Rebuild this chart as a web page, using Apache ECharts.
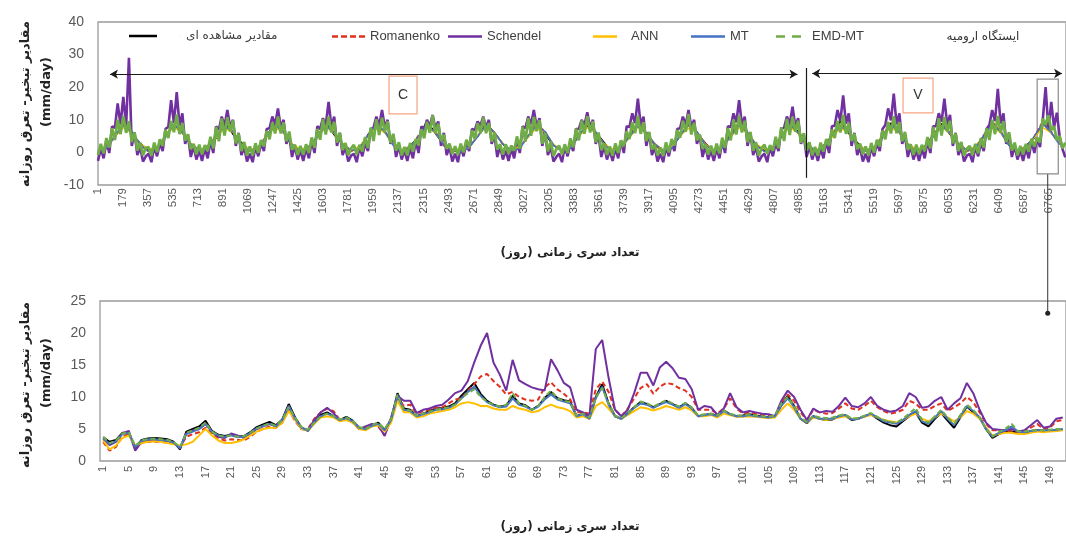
<!DOCTYPE html>
<html><head><meta charset="utf-8">
<script src="https://cdn.jsdelivr.net/npm/echarts@6/dist/echarts.min.js"></script>
<style>html,body{margin:0;padding:0;background:#fff}#c{width:1066px;height:546px}</style>
</head><body><div id="c"></div>
<script>
// ---- names / styles ----
const SERIES_NAMES = ['مقادیر مشاهده ای','Romanenko','Schendel','ANN','MT','EMD-MT'];
const COLORS = ['#000000','#e0301e','#7030a0','#ffc000','#4472c4','#70ad47'];
const DASH = ['solid','dashed','solid','solid','solid','dashed'];

// ---- top chart (whole record, day index) ----
const TOP_X_MAX = 6885;        // last day index shown
const TOP_X_INTERVAL = 178;    // tick label step (days)
const TOP_Y = {min:-10, max:40, interval:10};
const TOP_STEP = 20;           // sampling step (days) of the dense series
const HID_STEP = 60;           // sampling step (days) of the covered series

const TOP_EMD = [
-0.8,2.6,-0.3,4.4,1.5,7.4,3.8,10.0,5.6,11.2,6.0,9.6,3.2,6.2,0.6,3.0,-0.9,1.4,
1.6,-1.0,3.0,0.1,4.0,2.0,7.0,4.4,9.6,6.2,11.6,5.6,9.0,3.6,5.6,1.0,2.6,-0.6,
2.4,-0.5,2.2,0.4,4.8,1.2,7.8,3.4,10.4,5.2,10.8,6.4,9.8,2.8,5.8,0.4,3.2,-1.0,
1.8,-0.9,2.8,-0.1,3.8,1.8,6.6,4.0,9.2,5.8,11.0,5.8,9.2,3.4,6.4,0.8,2.4,-0.8,
2.0,-0.7,2.5,-0.2,4.6,1.4,7.2,3.9,10.2,5.5,11.0,6.1,9.4,3.0,6.0,0.7,2.9,-0.9,1.2,
2.3,-0.6,2.3,0.3,4.7,1.3,7.6,3.5,10.2,5.3,10.6,6.3,9.6,2.9,5.7,0.5,3.1,-0.9,
1.7,-0.9,2.9,0.2,4.1,2.1,7.1,4.3,9.4,6.0,11.4,5.7,8.8,3.5,5.5,1.1,2.7,-0.5,
1.9,-0.8,2.7,0.0,3.9,1.7,6.8,4.1,9.0,5.9,10.8,5.9,9.0,3.3,6.2,0.9,2.5,-0.7,
2.5,-0.4,2.1,0.5,4.9,1.1,7.9,3.3,10.6,5.1,10.9,6.5,9.9,2.7,5.9,0.3,3.3,-1.1,1.0,
2.1,-0.7,2.5,-0.2,4.3,1.6,7.3,3.7,9.8,5.7,11.1,6.1,9.5,3.1,6.1,0.7,2.9,-0.8,
1.8,-1.0,2.8,-0.2,3.7,1.9,6.5,4.1,9.3,5.9,11.2,5.7,9.3,3.5,6.3,0.9,2.3,-0.9,
1.5,-1.1,3.1,0.0,4.1,2.1,6.9,4.5,9.7,6.3,11.8,5.5,9.1,3.7,5.5,1.1,2.5,-0.7,
2.1,-0.8,2.7,-0.3,4.5,1.4,7.5,3.7,10.1,5.5,11.3,6.1,9.7,3.1,6.3,0.5,3.1,-1.0,1.3,
2.4,-0.4,2.2,0.5,4.8,1.3,7.7,3.5,10.3,5.3,10.9,6.3,9.7,2.9,5.9,0.5,3.1,-0.9,
1.7,-1.0,3.0,0.2,4.1,2.0,7.1,4.4,9.7,6.1,11.5,5.7,9.1,3.5,5.7,1.0,2.7,-0.6,
1.8,-0.9,2.9,-0.1,3.9,1.8,6.7,4.0,9.3,5.8,11.1,5.9,9.3,3.4,6.3,0.8,2.5,-0.8,
2.4,-0.5,2.3,0.4,4.7,1.2,7.8,3.4,10.5,5.2,10.9,6.4,9.7,2.8,5.8,0.4,3.2,-1.0,1.1,
2.0,-0.8,2.6,-0.3,4.4,1.5,7.4,3.8,10.0,5.6,11.2,6.0,9.6,3.2,6.2,0.6,3.0,-0.9,
2.0,-0.6,2.6,0.2,4.2,1.8,4.5,3.0,10.4,8.5,11.4,6.8,8.0,3.8,5.0,1.2,3.0
];
const TOP_SCH = [
-2.6,1.2,-1.8,3.4,-0.2,8.0,7.5,15.0,8.5,17.0,8.0,29.0,2.0,6.0,-0.8,1.6,-2.8,-1.2,
-0.4,-3.0,1.8,-1.2,2.8,0.4,7.2,7.8,16.0,9.0,18.5,8.2,12.0,2.6,5.2,-1.4,2.0,-2.2,
0.6,-2.6,1.2,-1.8,3.4,-0.2,8.0,7.0,11.0,8.2,13.0,7.8,10.0,2.0,6.0,-0.8,1.6,-2.8,
-0.4,-3.0,1.8,-1.2,2.8,0.4,7.2,7.4,11.0,8.6,13.5,7.6,10.0,2.6,5.2,-1.4,2.0,-2.2,
0.6,-2.6,1.2,-1.8,3.4,-0.2,8.0,7.2,10.5,8.4,15.5,8.0,11.0,2.0,6.0,-0.8,1.6,-2.8,-1.0,
-0.4,-3.0,1.8,-1.2,2.8,0.4,7.2,7.6,11.0,8.2,13.0,7.8,10.0,2.6,5.2,-1.4,2.0,-2.2,
0.6,-2.6,1.2,-1.8,3.4,-0.2,8.0,7.0,10.0,8.0,11.5,7.4,9.5,2.0,6.0,-0.8,1.6,-2.8,
-0.4,-3.0,1.8,-1.2,2.8,0.4,7.2,6.8,9.5,8.2,11.0,7.6,10.0,2.6,5.2,-1.4,2.0,-2.2,
0.6,-2.6,1.2,-1.8,3.4,-0.2,8.0,7.4,11.0,8.6,13.0,7.8,10.5,2.0,6.0,-0.8,1.6,-2.8,-1.4,
-0.4,-3.0,1.8,-1.2,2.8,0.4,7.2,7.2,10.0,8.4,12.3,7.6,10.0,2.6,5.2,-1.4,2.0,-2.2,
0.6,-2.6,1.2,-1.8,3.4,-0.2,8.0,7.8,12.0,9.0,16.5,8.4,11.0,2.0,6.0,-0.8,1.6,-2.8,
-0.4,-3.0,1.8,-1.2,2.8,0.4,7.2,7.4,11.0,8.4,13.0,7.8,10.0,2.6,5.2,-1.4,2.0,-2.2,
0.6,-2.6,1.2,-1.8,3.4,-0.2,8.0,7.8,12.0,9.2,16.0,8.4,11.0,2.0,6.0,-0.8,1.6,-2.8,-1.2,
-0.4,-3.0,1.8,-1.2,2.8,0.4,7.2,7.6,11.0,8.8,14.0,8.0,10.5,2.6,5.2,-1.4,2.0,-2.2,
0.6,-2.6,1.2,-1.8,3.4,-0.2,8.0,8.2,13.0,9.6,17.5,8.8,12.0,2.0,6.0,-0.8,1.6,-2.8,
-0.4,-3.0,1.8,-1.2,2.8,0.4,7.2,8.4,13.5,9.8,18.0,8.6,12.0,2.6,5.2,-1.4,2.0,-2.2,
0.6,-2.6,1.2,-1.8,3.4,-0.2,8.0,8.0,12.0,9.4,16.5,8.4,11.5,2.0,6.0,-0.8,1.6,-2.8,-1.0,
-0.4,-3.0,1.8,-1.2,2.8,0.4,7.2,8.4,13.0,9.6,19.5,8.8,12.0,2.6,5.2,-1.4,2.0,-2.2,
0.6,-2.6,1.2,-1.8,3.4,-0.2,4.4,1.6,10.2,20.0,7.0,15.5,7.7,12.2,4.8,1.0,-1.5
];
const TOP_OBS = [
0.2,1.8,4.6,9.0,5.8,2.8, 0.6,1.4,5.0,8.4,6.2,2.4, -0.2,2.0,4.4,9.4,5.6,3.0, 0.4,1.6,5.2,8.8,6.0,2.2,
0.0,1.8,4.8,9.2,5.4,2.6, 0.6,1.2,5.4,8.6,6.4,2.8, 0.2,2.0,4.6,9.6,5.8,2.4,0.4, 0.4,1.6,5.0,8.8,6.0,2.6,
0.0,1.8,4.8,9.0,5.6,2.2, 0.6,1.4,5.2,8.4,6.2,3.0, -0.2,2.0,4.6,9.4,5.8,2.4, 0.4,1.6,5.0,8.8,6.0,2.8,
0.2,1.8,5.4,9.2,5.4,2.2, 0.6,1.2,4.8,8.6,6.4,2.6, 0.0,2.0,5.0,9.6,5.8,3.0, 0.4,1.6,4.6,9.0,6.0,2.4,
0.2,1.8,5.2,8.8,5.6,2.8, 0.6,1.4,4.8,9.4,6.2,2.2, 0.0,2.0,4.4,9.0,6.0,2.6
];
const TOP_ROM = [
0.6,1.2,5.2,8.4,6.4,2.2, 0.2,1.6,4.8,8.8,6.0,2.6, 0.8,1.0,5.4,8.2,6.6,2.0, 0.4,1.4,5.0,8.6,6.2,2.4,
0.6,1.2,5.2,8.0,6.4,2.2, 0.2,1.8,4.8,8.8,6.0,2.8, 0.8,1.2,5.4,8.4,6.6,2.0,0.6, 0.4,1.6,5.0,8.2,6.2,2.4,
0.6,1.0,5.2,8.8,6.4,2.2, 0.2,1.4,4.8,8.4,6.0,2.6, 0.8,1.2,5.4,8.6,6.6,2.0, 0.4,1.8,5.0,8.2,6.2,2.8,
0.6,1.2,5.2,8.8,6.4,2.2, 0.2,1.6,4.8,8.4,6.0,2.4, 0.8,1.0,5.6,9.0,6.8,2.0, 0.4,1.4,5.2,9.2,6.4,2.6,
0.6,1.2,5.0,8.8,6.2,2.2, 0.2,1.6,5.4,9.4,6.6,2.8, 0.6,1.2,5.0,9.6,6.4,2.4
];
const TOP_ANN = [
0.8,1.6,4.8,7.6,6.0,2.6, 1.0,1.4,5.0,7.8,5.8,2.8, 0.6,1.8,4.6,7.4,6.2,2.4, 0.8,1.6,5.2,7.6,6.0,2.6,
1.0,1.4,4.8,7.8,5.8,2.8, 0.6,1.8,5.0,7.4,6.2,2.4, 0.8,1.6,4.6,7.6,6.0,2.6,1.0, 1.0,1.4,5.2,7.8,5.8,2.8,
0.6,1.8,4.8,7.4,6.2,2.4, 0.8,1.6,5.0,7.6,6.0,2.6, 1.0,1.4,4.6,7.8,5.8,2.8, 0.6,1.8,5.2,7.4,6.2,2.4,
0.8,1.6,4.8,7.6,6.0,2.6, 1.0,1.4,5.0,7.8,5.8,2.8, 0.6,1.8,4.6,7.4,6.2,2.4, 0.8,1.6,5.2,7.6,6.0,2.6,
1.0,1.4,4.8,7.8,5.8,2.8, 0.6,1.8,5.0,7.4,6.2,2.4, 0.8,1.6,4.6,7.6,6.0,2.6
];
const TOP_MT = [
0.4,1.4,5.0,8.2,6.2,2.4, 0.2,1.6,4.8,8.6,6.0,2.6, 0.6,1.2,5.2,8.0,6.4,2.2, 0.4,1.4,5.0,8.4,6.2,2.4,
0.2,1.6,4.8,8.2,6.0,2.6, 0.6,1.2,5.2,8.6,6.4,2.2, 0.4,1.4,5.0,8.0,6.2,2.4,0.8, 0.2,1.6,4.8,8.4,6.0,2.6,
0.6,1.2,5.2,8.2,6.4,2.2, 0.4,1.4,5.0,8.6,6.2,2.4, 0.2,1.6,4.8,8.0,6.0,2.6, 0.6,1.2,5.2,8.4,6.4,2.2,
0.4,1.4,5.0,8.2,6.2,2.4, 0.2,1.6,4.8,8.6,6.0,2.6, 0.6,1.2,5.2,8.0,6.4,2.2, 0.4,1.4,5.0,8.4,6.2,2.4,
0.2,1.6,4.8,8.2,6.0,2.6, 0.6,1.2,5.2,8.6,6.4,2.2, 0.4,1.4,5.0,8.8,6.2,2.4
];

// ---- bottom chart (151-day zoom) ----
const BOTTOM_Y = {min:0, max:25, interval:5};
const BOTTOM_DAYS = Array.from({length:151}, (_, i) => String(i + 1));
const B_OBS = [3.7,3.0,3.3,4.4,4.4,2.0,3.3,3.5,3.6,3.5, 3.4,3.0,1.8,4.6,5.0,5.4,6.3,4.7,4.1,3.9, 4.1,3.8,3.9,4.5,5.3,5.7,6.1,5.6,6.5,8.9, 6.8,5.2,4.7,6.0,7.2,7.6,7.0,6.4,6.9,6.3, 5.2,5.0,5.6,6.0,4.8,6.5,10.6,8.2,8.0,7.0, 7.4,7.8,8.2,8.3,8.5,9.0,10.2,11.2,12.2,10.5, 9.4,8.8,8.5,8.6,10.2,9.0,8.7,8.0,8.6,9.8, 10.8,9.8,9.5,9.3,7.0,7.4,6.6,10.0,12.0,9.0, 7.0,6.6,7.5,8.4,9.2,8.9,8.4,8.9,9.4,8.9, 8.4,9.0,8.3,7.0,7.2,7.4,7.0,7.9,7.3,7.0, 7.1,7.3,7.1,7.0,6.8,7.0,8.8,10.2,8.6,6.6, 5.9,7.0,6.6,6.4,6.5,7.0,7.1,6.4,6.6,7.0, 7.3,6.6,6.0,5.6,5.4,6.2,7.0,7.6,6.0,5.4, 6.6,7.5,6.3,5.2,6.8,8.5,7.6,6.8,5.0,3.6, 4.2,4.6,4.5,4.6,4.4,4.7,4.8,4.7,4.8,4.8, 4.9];
const B_ROM = [3.0,1.6,2.2,3.8,4.2,2.2,2.8,3.0,3.0,3.0, 2.9,2.7,2.2,3.8,4.2,4.5,5.2,4.2,3.6,3.2, 3.4,3.3,3.2,3.8,4.6,5.0,5.4,5.2,6.0,8.0, 6.2,5.0,5.0,6.6,7.6,8.2,7.8,6.4,6.6,6.0, 5.0,5.2,5.6,5.4,4.0,6.6,9.8,8.6,8.8,7.4, 7.8,8.0,8.3,8.4,9.0,9.6,9.8,11.0,12.0,13.2, 13.6,12.5,11.6,10.4,10.8,10.0,9.6,9.4,9.6,11.5, 12.3,11.2,10.5,9.6,7.6,7.6,7.4,11.2,12.4,10.8, 8.0,7.0,8.2,9.8,11.4,12.0,10.5,11.6,12.2,12.0, 11.4,11.0,10.0,8.0,8.0,8.0,7.4,8.2,9.8,8.2, 7.4,7.6,7.4,7.2,7.1,6.9,9.0,10.4,9.4,7.6, 6.4,8.0,7.6,7.4,7.5,8.2,9.0,8.2,8.0,8.6, 9.4,8.4,7.8,7.4,7.6,8.0,9.4,9.0,8.0,8.0, 8.6,9.0,7.8,8.4,9.0,10.0,9.2,7.6,5.8,4.8, 4.8,4.6,4.8,4.5,4.6,5.2,5.8,5.0,5.2,6.2, 6.4];
const B_SCH = [3.4,2.5,3.0,4.3,4.7,1.6,3.0,3.2,3.3,3.2, 3.1,2.8,2.0,4.3,4.8,5.0,5.8,4.5,3.8,3.6, 4.3,4.0,3.6,4.2,5.0,5.4,5.8,5.4,6.4,8.6, 6.6,5.0,4.8,6.4,7.6,8.3,7.5,6.3,6.6,6.2, 5.0,5.4,5.8,5.6,3.9,6.8,10.2,9.4,9.4,7.5, 8.0,8.2,8.6,8.8,9.6,10.6,11.0,12.5,15.4,18.0, 20.0,15.4,13.5,11.0,15.8,12.6,12.0,11.5,11.2,11.0, 15.9,14.2,12.2,11.5,8.0,7.6,7.0,17.5,18.9,13.0, 8.0,7.0,8.0,10.6,13.8,13.8,11.8,14.6,15.5,14.5, 13.0,12.8,11.2,8.0,8.6,8.4,7.2,8.2,10.6,8.4, 7.6,7.8,7.6,7.4,7.3,7.0,9.4,11.0,10.0,8.0, 6.4,8.2,7.6,7.8,7.7,8.6,9.9,8.6,8.4,9.0, 10.0,8.6,8.0,7.7,7.9,8.6,10.6,10.0,8.3,8.5, 9.4,10.0,8.0,9.0,9.8,12.2,10.6,8.0,6.0,5.0, 4.9,4.8,5.0,4.6,4.8,5.6,6.4,5.2,5.4,6.6, 6.8];
const B_ANN = [3.2,1.8,2.4,3.6,4.0,2.4,2.8,3.0,3.1,3.0, 2.8,2.6,2.4,2.6,3.0,4.0,5.0,4.0,3.2,2.8, 2.8,3.0,3.4,4.0,4.6,5.0,5.2,5.2,6.0,7.8, 6.4,5.0,4.8,5.8,6.8,7.0,6.8,6.2,6.4,6.0, 5.0,4.8,5.4,5.6,4.6,6.0,9.4,7.6,7.6,6.8, 7.0,7.4,7.6,7.8,8.0,8.4,9.0,9.2,9.0,8.6, 8.6,8.2,8.0,8.0,8.6,8.2,8.0,7.6,7.8,8.4, 8.8,8.4,8.2,7.8,6.8,7.0,6.6,8.6,9.2,8.2, 7.0,6.6,7.2,7.8,8.4,8.2,7.9,8.2,8.6,8.3, 8.0,8.4,7.9,7.0,7.0,7.2,6.8,7.4,7.2,6.9, 6.9,7.0,6.9,6.8,6.7,6.8,8.0,9.0,8.0,6.6, 6.0,6.8,6.6,6.4,6.6,6.8,7.0,6.6,6.6,6.9, 7.2,6.8,6.4,6.2,6.0,6.4,7.0,7.4,6.6,6.2, 6.8,7.4,6.8,6.2,6.8,7.8,7.4,6.6,5.2,4.0, 4.2,4.4,4.4,4.2,4.2,4.4,4.6,4.5,4.6,4.7, 4.8];
const B_MT = [3.5,2.7,3.1,4.2,4.4,2.2,3.2,3.4,3.4,3.3, 3.2,2.9,2.0,4.2,4.6,5.0,5.8,4.6,4.0,3.8, 4.0,3.7,3.8,4.4,5.1,5.5,5.8,5.4,6.4,8.6, 6.6,5.2,4.8,6.0,7.0,7.4,7.0,6.4,6.7,6.2, 5.2,5.0,5.5,5.8,4.8,6.4,10.2,8.0,7.8,7.0, 7.3,7.6,8.0,8.1,8.3,8.8,9.8,10.8,11.6,10.2, 9.2,8.7,8.4,8.5,9.8,8.8,8.5,8.0,8.5,9.6, 10.4,9.6,9.3,9.0,7.0,7.3,6.6,9.8,11.6,8.8, 7.0,6.6,7.4,8.3,9.0,8.8,8.3,8.8,9.2,8.8, 8.3,8.9,8.2,7.0,7.2,7.3,7.0,7.8,7.3,7.0, 7.0,7.2,7.0,6.9,6.8,7.0,8.6,9.8,8.4,6.6, 6.0,7.0,6.6,6.6,6.6,7.0,7.2,6.5,6.6,7.0, 7.4,6.8,6.2,6.0,5.8,6.4,7.2,7.8,6.2,5.8, 6.8,7.8,6.6,5.6,7.0,8.6,7.8,6.8,5.0,3.8, 4.4,4.8,5.4,4.6,4.5,4.7,4.8,4.8,4.8,4.9, 5.0];
const B_EMD = [3.8,2.8,3.2,4.3,4.5,2.4,3.2,3.4,3.5,3.4, 3.3,3.0,2.2,4.4,4.8,5.2,6.0,4.6,4.0,3.8, 4.0,3.8,3.9,4.4,5.1,5.5,5.9,5.5,6.4,8.4, 6.8,5.3,4.9,6.0,7.0,7.4,7.0,6.5,6.8,6.3, 5.3,5.0,5.6,6.0,5.0,6.6,10.4,8.0,7.9,7.1, 7.4,7.7,8.0,8.2,8.4,8.8,9.8,10.6,11.2,10.0, 9.3,8.8,8.5,8.8,10.6,9.0,8.6,8.0,8.6,10.0, 11.0,9.8,9.4,9.2,7.1,7.4,6.8,10.0,11.4,9.0, 7.1,6.7,7.5,8.4,9.3,9.0,8.5,9.0,9.5,9.0, 8.5,9.1,8.4,7.1,7.3,7.4,7.1,7.9,7.4,7.1, 7.1,7.3,7.1,7.0,6.9,7.1,9.0,10.0,8.6,6.8, 6.1,7.1,6.8,6.7,6.8,7.1,7.3,6.6,6.7,7.1, 7.5,6.9,6.4,6.1,6.0,6.6,7.4,8.3,6.4,6.0, 7.0,8.0,6.8,5.8,7.2,8.8,8.0,6.8,5.0,3.8, 4.5,5.0,5.8,4.6,4.6,4.8,4.8,4.8,4.9,5.0, 5.0];

// ---- annotations (data coordinates of the top chart) ----
const ARROW_SPANS = [[85, 4975, 24], [5080, 6857, 24.2]];  // [from day, to day, value]
const SPLIT_LINE = [5036, 25.9, -7.8];                       // day, from value, to value
const BOXES = [
  {name:'C', x:[2070, 2269], y:[23.4, 11.8], color:'#f4a582'},
  {name:'V', x:[5726, 5939], y:[22.8, 12.1], color:'#f4a582'},
  {name:'',  x:[6680, 6830], y:[22.5, -6.6], color:'#8c8c8c'}
];

const TOP_DATA = [TOP_OBS, TOP_ROM, TOP_SCH, TOP_ANN, TOP_MT, TOP_EMD];
const TOP_STEPS = [HID_STEP, HID_STEP, TOP_STEP, HID_STEP, HID_STEP, TOP_STEP];
const TOP_WIDTH = [1.6, 1.4, 2.6, 1.6, 1.6, 2.8];
const BOT_DATA = [B_OBS, B_ROM, B_SCH, B_ANN, B_MT, B_EMD];

const chart = echarts.init(document.getElementById('c'), null, {renderer:'canvas'});
const LAT = 'Liberation Sans';
const FA = 'DejaVu Sans';

const series = [];
SERIES_NAMES.forEach((n, i) => {
  series.push({
    type:'line', name:n, xAxisIndex:0, yAxisIndex:0, symbol:'none', showSymbol:false, animation:false,
    data: TOP_DATA[i].map((v, k) => [k * TOP_STEPS[i], v]),
    lineStyle:{color:COLORS[i], width:TOP_WIDTH[i], type: DASH[i] === 'dashed' && i === 1 ? [4,2] : 'solid'},
    itemStyle:{color:COLORS[i]}
  });
});
SERIES_NAMES.forEach((n, i) => {
  series.push({
    type:'line', name:n, xAxisIndex:1, yAxisIndex:1, symbol:'none', showSymbol:false, animation:false,
    data: BOT_DATA[i],
    lineStyle:{color:COLORS[i], width:2, type: DASH[i] === 'dashed' ? [5,3] : 'solid'},
    itemStyle:{color:COLORS[i]}
  });
});
// annotations attached to the top EMD-MT series
series[5].markLine = {
  silent:true, animation:false, symbolSize:[7,8],
  label:{show:false},
  lineStyle:{color:'#1a1a1a', width:1.2, type:'solid'},
  data: ARROW_SPANS.map(a => [{coord:[a[0], a[2]], symbol:'arrow'}, {coord:[a[1], a[2]], symbol:'arrow'}])
    .concat([[{coord:[SPLIT_LINE[0], SPLIT_LINE[1]], symbol:'none'}, {coord:[SPLIT_LINE[0], SPLIT_LINE[2]], symbol:'none'}]])
};
series[5].markArea = {
  silent:true, animation:false,
  data: BOXES.map(b => [
    {name:b.name, coord:[b.x[0], b.y[0]], itemStyle:{color:'rgba(255,255,255,0)', borderColor:b.color, borderWidth:1.2}},
    {coord:[b.x[1], b.y[1]]}
  ]),
  label:{show:true, position:'inside', formatter:'{b}', color:'#333', fontSize:14, fontFamily:LAT}
};

// legend icons: a line segment (solid or dashed) followed by blank space up to the text
function lineIcon(len, total, dashed) {
  let p = '';
  if (dashed) {
    for (let x = 0; x < len; x += dashed[0] + dashed[1]) {
      const w = Math.min(dashed[0], len - x);
      p += `M${x} 0h${w}v1h-${w}z `;
    }
  } else {
    p = `M0 0h${len}v1h-${len}z `;
  }
  p += `M${total - 0.05} 0h0.05v1h-0.05z`;
  return 'path://' + p;
}
const LEG_X = [129, 332, 448, 593, 691, 776];
const LEG_LINE = [28, 33, 34, 24, 34, 31];
const LEG_W = [52, 33, 34, 33, 34, 31];
const LEG_DASH = [null, [6,3], null, null, null, [9,7]];
const legends = SERIES_NAMES.map((n, i) => ({
  data:[n], left:LEG_X[i], top:30, itemWidth:LEG_W[i], itemHeight:2.5, itemGap:0, padding:0,
  icon: lineIcon(LEG_LINE[i], LEG_W[i], LEG_DASH[i]), symbolKeepAspect:false,
  selectedMode:false,
  textStyle:{fontFamily: i===0 ? FA : LAT, fontSize: i===0 ? 12 : 13, color:'#404040'}
}));

const axisLabelY = {margin:14, fontSize:14, color:'#595959', fontFamily:LAT};
const option = {
  backgroundColor:'#fff',
  animation:false,
  legend: legends,
  grid:[
    {left:98, top:22, right:0, height:163, show:true, borderColor:'#9a9a9a', borderWidth:1.3},
    {left:100, top:301, right:0, height:160, show:true, borderColor:'#9a9a9a', borderWidth:1.3}
  ],
  xAxis:[
    {gridIndex:0, type:'value', min:0, max:TOP_X_MAX, interval:TOP_X_INTERVAL,
     axisLine:{show:false}, axisTick:{show:false}, splitLine:{show:false},
     axisLabel:{rotate:90, margin:3, fontSize:11.5, color:'#595959', fontFamily:LAT,
                formatter:v => String(v + 1), showMaxLabel:false}},
    {gridIndex:1, type:'category', data:BOTTOM_DAYS, boundaryGap:true,
     axisLine:{show:false}, axisTick:{show:false}, splitLine:{show:false},
     axisLabel:{interval:3, rotate:90, margin:5, fontSize:11, color:'#595959', fontFamily:LAT}}
  ],
  yAxis:[
    {gridIndex:0, type:'value', min:TOP_Y.min, max:TOP_Y.max, interval:TOP_Y.interval,
     axisLine:{show:false}, axisTick:{show:false}, splitLine:{show:false}, axisLabel:axisLabelY},
    {gridIndex:1, type:'value', min:BOTTOM_Y.min, max:BOTTOM_Y.max, interval:BOTTOM_Y.interval,
     axisLine:{show:false}, axisTick:{show:false}, splitLine:{show:false}, axisLabel:axisLabelY}
  ],
  graphic:[
    {id:'yt1', type:'text', x:26, y:104, rotation:Math.PI/2, style:{text:'مقادیر تبخیر- تعرق روزانه', font:'bold 13px "DejaVu Sans"', fill:'#222', align:'center', verticalAlign:'middle'}},
    {id:'yt2', type:'text', x:47, y:92, rotation:Math.PI/2, style:{text:'(mm/day)', font:'bold 13px "DejaVu Sans"', fill:'#222', align:'center', verticalAlign:'middle'}},
    {id:'yb1', type:'text', x:26, y:385, rotation:Math.PI/2, style:{text:'مقادیر تبخیر- تعرق روزانه', font:'bold 13px "DejaVu Sans"', fill:'#222', align:'center', verticalAlign:'middle'}},
    {id:'yb2', type:'text', x:47, y:373, rotation:Math.PI/2, style:{text:'(mm/day)', font:'bold 13px "DejaVu Sans"', fill:'#222', align:'center', verticalAlign:'middle'}},
    {id:'xt', type:'text', x:570, y:253, style:{text:'تعداد سری زمانی (روز)', font:'bold 12px "DejaVu Sans"', fill:'#222', align:'center', verticalAlign:'middle'}},
    {id:'xb', type:'text', x:570, y:527, style:{text:'تعداد سری زمانی (روز)', font:'bold 12px "DejaVu Sans"', fill:'#222', align:'center', verticalAlign:'middle'}},
    {id:'st', type:'text', x:983, y:37, style:{text:'ایستگاه ارومیه', font:'12px "DejaVu Sans"', fill:'#333', align:'center', verticalAlign:'middle'}}
  ],
  series: series
};
chart.setOption(option);

// connector from the marked box in the top chart down into the zoomed chart
const box = BOXES[2];
const p1 = chart.convertToPixel({xAxisIndex:0, yAxisIndex:0}, [(box.x[0] + box.x[1]) / 2, box.y[1]]);
const y2 = chart.convertToPixel({yAxisIndex:1}, 23.1);
chart.setOption({graphic:[
  {id:'conn', type:'line', shape:{x1:p1[0], y1:p1[1], x2:p1[0], y2:y2}, style:{stroke:'#333', lineWidth:1}},
  {id:'dot', type:'circle', shape:{cx:p1[0], cy:y2, r:2.5}, style:{fill:'#222'}}
]});
</script>
</body></html>
